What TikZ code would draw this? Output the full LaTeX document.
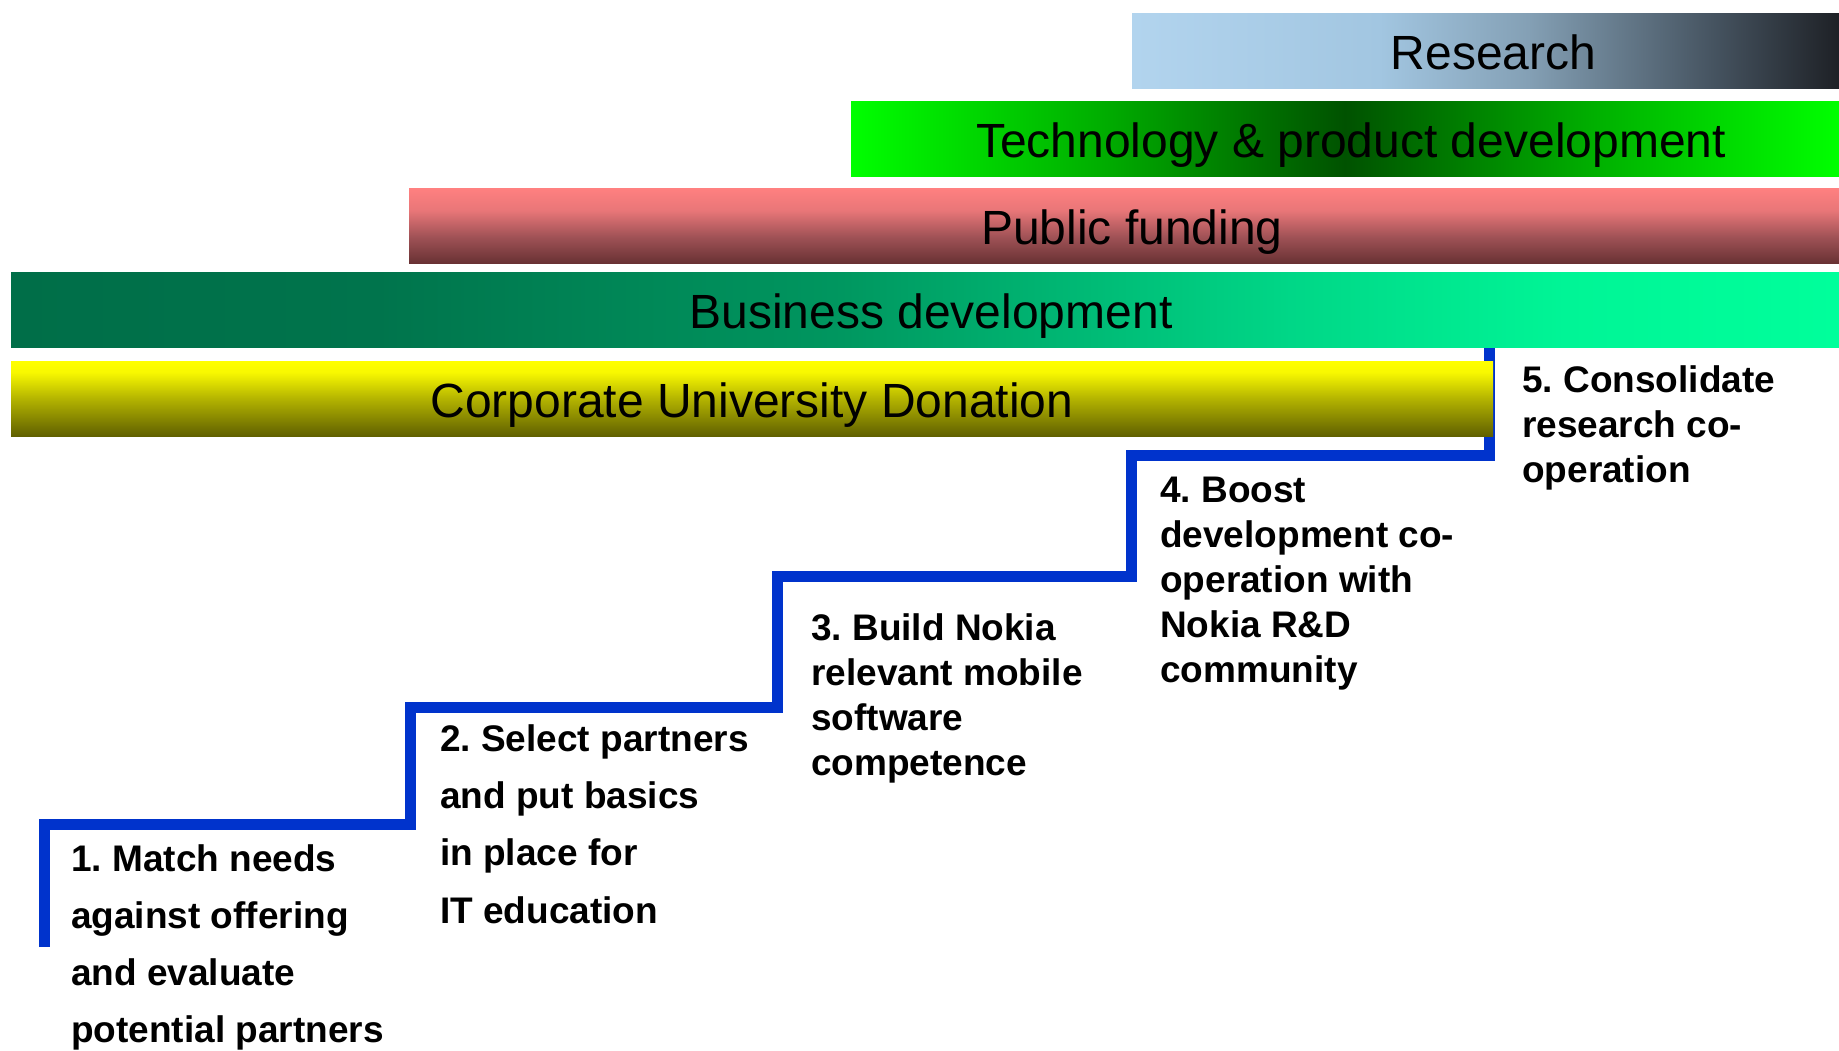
\documentclass[tikz,border=0pt]{standalone}
\usepackage{fontspec}
\setmainfont{Liberation Sans}
\frenchspacing
\definecolor{stairblue}{RGB}{0,51,204}
\definecolor{rsA}{RGB}{178,212,238}
\definecolor{rsB}{RGB}{162,198,225}
\definecolor{rsC}{RGB}{132,160,181}
\definecolor{rsD}{RGB}{70,84,97}
\definecolor{rsE}{RGB}{30,33,38}
\definecolor{tgA}{RGB}{0,255,0}
\definecolor{tgB}{RGB}{0,175,0}
\definecolor{tgC}{RGB}{0,82,0}
\definecolor{pfA}{RGB}{105,50,52}
\definecolor{pfB}{RGB}{160,82,86}
\definecolor{pfC}{RGB}{232,118,120}
\definecolor{pfD}{RGB}{255,128,128}
\definecolor{bdA}{RGB}{0,110,72}
\definecolor{bdB}{RGB}{0,116,76}
\definecolor{bdC}{RGB}{0,150,95}
\definecolor{bdD}{RGB}{0,215,135}
\definecolor{bdE}{RGB}{0,245,150}
\definecolor{bdF}{RGB}{0,255,155}
\definecolor{cuA}{RGB}{96,96,0}
\definecolor{cuB}{RGB}{180,180,0}
\definecolor{cuC}{RGB}{248,248,0}
\definecolor{cuD}{RGB}{255,255,0}
\pgfdeclarehorizontalshading{researchshade}{100bp}{color(0bp)=(rsA); color(25bp)=(rsA); color(42.5bp)=(rsB); color(53bp)=(rsC); color(66bp)=(rsD); color(75bp)=(rsE); color(100bp)=(rsE)}
\pgfdeclarehorizontalshading{techshade}{100bp}{color(0bp)=(tgA); color(25bp)=(tgA); color(37.5bp)=(tgB); color(50bp)=(tgC); color(62.5bp)=(tgB); color(75bp)=(tgA); color(100bp)=(tgA)}
\pgfdeclareverticalshading{publicshade}{100bp}{color(0bp)=(pfA); color(25bp)=(pfA); color(42.5bp)=(pfB); color(60bp)=(pfC); color(75bp)=(pfD); color(100bp)=(pfD)}
\pgfdeclarehorizontalshading{businessshade}{100bp}{color(0bp)=(bdA); color(25bp)=(bdA); color(35bp)=(bdB); color(47.5bp)=(bdC); color(60bp)=(bdD); color(67.5bp)=(bdE); color(75bp)=(bdF); color(100bp)=(bdF)}
\pgfdeclareverticalshading{corporateshade}{100bp}{color(0bp)=(cuA); color(25bp)=(cuA); color(50bp)=(cuB); color(67.5bp)=(cuC); color(75bp)=(cuD); color(100bp)=(cuD)}
\tikzset{
  bar/.style={anchor=north west, inner sep=0pt, outer sep=0pt, minimum height=75pt,
    text height=56pt, text depth=19pt, font=\fontsize{48}{56}\selectfont, text=black},
  steplabel/.style={anchor=north west, inner sep=0pt, align=left, text=black},
  stairline/.style={draw=stairblue, line width=11pt, line join=miter, line cap=butt},
}
\begin{document}
\begin{tikzpicture}[x=1pt,y=1pt]
\useasboundingbox (0,0) rectangle (1839,-1050);
% staircase
\coordinate (s0) at (44,-947);
\coordinate (s1) at (44,-824);
\coordinate (s2) at (410,-824);
\coordinate (s3) at (410,-707);
\coordinate (s4) at (777,-707);
\coordinate (s5) at (777,-576);
\coordinate (s6) at (1131,-576);
\coordinate (s7) at (1131,-455);
\coordinate (s8) at (1489,-455);
\coordinate (s9) at (1489,-347);
\draw[stairline] (s0) -- (s1) -- (s2) -- (s3) -- (s4) -- (s5) -- (s6) -- (s7) -- (s8) -- (s9);
% bars
\node[bar, shading=researchshade, minimum width=707pt] (research) at (1132,-13) {\hspace*{16pt}Research};
\node[bar, shading=techshade, minimum width=988pt] (tech) at (851,-101) {\hspace*{12pt}Technology \& product development};
\node[bar, shading=publicshade, minimum width=1430pt] (public) at (409,-188) {\hspace*{16pt}Public funding};
\node[bar, shading=businessshade, minimum width=1828pt] (business) at (11,-272) {\hspace*{12pt}Business development};
\node[bar, shading=corporateshade, minimum width=1482pt] (corporate) at (11,-361) {Corporate University Donation};
% step labels
\node[steplabel, font=\fontsize{37}{57}\selectfont\bfseries] (l1) at (71,-841)
  {\rule{0pt}{30pt}1. Match needs\\against offering\\and evaluate\\potential partners};
\node[steplabel, font=\fontsize{37}{57.3}\selectfont\bfseries] (l2) at (440,-721)
  {\rule{0pt}{30pt}2. Select partners\\and put basics\\in place for\\IT education};
\node[steplabel, font=\fontsize{37}{45}\selectfont\bfseries] (l3) at (811,-610)
  {\rule{0pt}{30pt}3. Build Nokia\\relevant mobile\\software\\competence};
\node[steplabel, font=\fontsize{37}{45}\selectfont\bfseries] (l4) at (1160,-472)
  {\rule{0pt}{30pt}4. Boost\\development co-\\operation with\\Nokia R\&D\\community};
\node[steplabel, font=\fontsize{37}{45}\selectfont\bfseries] (l5) at (1522,-362)
  {\rule{0pt}{30pt}5. Consolidate\\research co-\\operation};
\end{tikzpicture}
\end{document}
